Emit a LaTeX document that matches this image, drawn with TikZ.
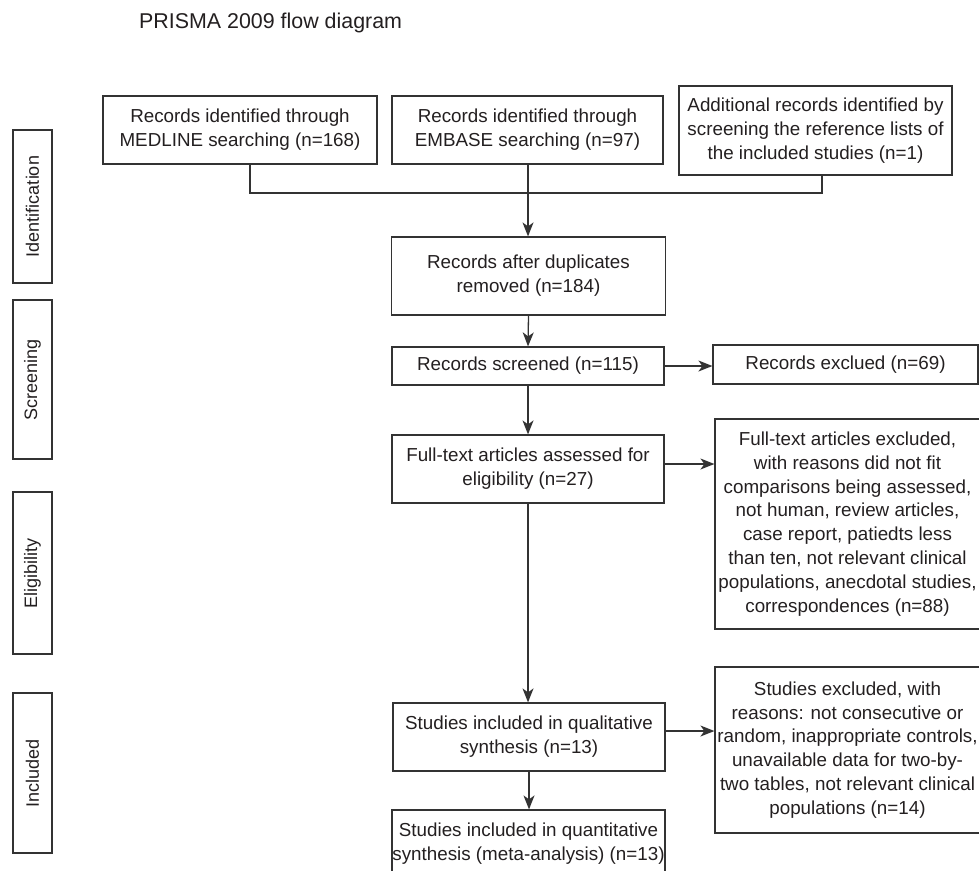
\documentclass[tikz,border=0pt]{standalone}
\usepackage{fontspec}
\setmainfont{Liberation Sans}
\usetikzlibrary{arrows.meta}
\definecolor{ink}{HTML}{231F20}
\definecolor{edge}{HTML}{333333}
\begin{document}
\begin{tikzpicture}[x=1pt,y=-1pt,
  flowbox/.style={draw=edge,line width=1.2pt,inner sep=0pt,minimum width=#1},
  flowbox/.default=272pt,
  boxtext/.style={text=ink,align=center,font=\fontsize{18.8}{23.8}\selectfont,inner sep=0pt},
  sidebox/.style={draw=edge,line width=1.2pt,inner sep=0pt,minimum width=39pt},
  sidetext/.style={text=ink,rotate=90,font=\fontsize{18}{21}\selectfont,inner sep=0pt},
  link/.style={draw=edge,line width=1.3pt},
  arr/.style={link,-{Stealth[length=14pt,width=11pt,inset=4pt]}}]
\useasboundingbox (0,0) rectangle (979,870);
\clip (0,0) rectangle (979,870);
% title
\node[anchor=base west,text=ink,font=\fontsize{21.4}{25}\selectfont,inner sep=0pt] (title) at (139,28) {PRISMA 2009 flow diagram};
% side labels
\node[sidebox,minimum height=153pt] (sid) at (32.5,206.5) {};
\node[sidetext] (sidt) at (sid) {Identification};
\node[sidebox,minimum height=159pt] (sscr) at (32.5,379.5) {};
\node[sidetext] (sscrt) at (sscr) {Screening};
\node[sidebox,minimum height=162pt] (selg) at (32.5,573) {};
\node[sidetext] (selgt) at (selg) {Eligibility};
\node[sidebox,minimum height=160pt] (sinc) at (32.5,773) {};
\node[sidetext] (sinct) at (sinc) {Included};
% top row
\node[flowbox=274pt,minimum height=68pt] (b1) at (240,130) {};
\node[boxtext] (t1) at (b1) {Records identified through\\MEDLINE searching (n=168)};
\node[flowbox=271pt,minimum height=68pt] (b2) at (527.5,130) {};
\node[boxtext] (t2) at (b2) {Records identified through\\EMBASE searching (n=97)};
\node[flowbox=273pt,minimum height=89pt] (b3) at (815.5,130.5) {};
\node[boxtext] (t3) at (b3) {Additional records identified by\\screening the reference lists of\\the included studies (n=1)};
% main column
\node[flowbox=274pt,minimum height=78pt] (b4) at (528.5,276) {};
\node[boxtext] (t4) at (b4) {Records after duplicates\\removed (n=184)};
\node[flowbox=272pt,minimum height=38pt] (b5) at (528,366) {};
\node[boxtext] (t5) at (b5) {Records screened (n=115)};
\node[flowbox=272pt,minimum height=68pt] (b6) at (528,469) {};
\node[boxtext] (t6) at (b6) {Full-text articles assessed for\\eligibility (n=27)};
\node[flowbox=272pt,minimum height=68pt] (b7) at (529,737) {};
\node[boxtext] (t7) at (b7) {Studies included in qualitative\\synthesis (n=13)};
\node[flowbox=273pt,minimum height=68pt] (b8) at (528.5,844) {};
\node[boxtext] (t8) at (b8) {Studies included in quantitative\\synthesis (meta-analysis) (n=13)};
% right column
\node[flowbox=265pt,minimum height=39pt] (r1) at (845.5,364.5) {};
\node[boxtext] (rt1) at (r1) {Records exclued (n=69)};
\node[flowbox=265pt,minimum height=210pt] (r2) at (847.5,524) {};
\node[boxtext] (rt2) at (r2) {Full-text articles excluded,\\with reasons did not fit\\comparisons being assessed,\\not human, review articles,\\case report, patiedts less\\than ten, not relevant clinical\\populations, anecdotal studies,\\correspondences (n=88)};
\node[flowbox=265pt,minimum height=166pt] (r3) at (847.5,750) {};
\node[boxtext] (rt3) at (r3) {Studies excluded, with\\reasons: not consecutive or\\random, inappropriate controls,\\unavailable data for two-by-\\two tables, not relevant clinical\\populations (n=14)};
% junction
\coordinate (j1) at (250,193);
\coordinate (j2) at (528,193);
\coordinate (j3) at (822,193);
\draw[link] (b1.south -| j1) |- (j3) -- (b3.south -| j3);
\draw[link] (b2.south -| j2) -- (j2);
\draw[arr] (j2) -- (b4.north -| j2);
\draw[arr] (b4.south) -- (b5.north);
\draw[arr] (b5.south) -- (b6.north);
\draw[arr] (b6.south) -- (b7.north -| b6.south);
\draw[arr] (b7.south) -- (b8.north -| b7.south);
\draw[arr] (b5.east) -- (b5.east -| r1.west);
\draw[arr] ([yshift=5pt]b6.east) -- ([yshift=5pt]b6.east -| r2.west);
\draw[arr] ([yshift=6pt]b7.east) -- ([yshift=6pt]b7.east -| r3.west);
\end{tikzpicture}
\end{document}
